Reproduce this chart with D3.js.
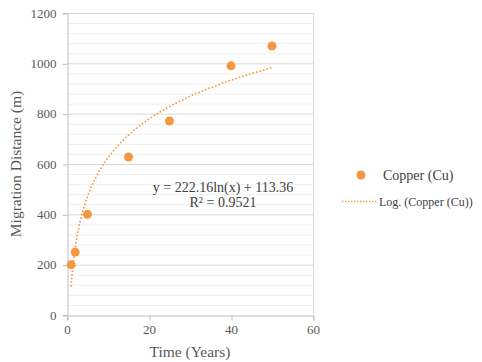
<!DOCTYPE html>
<html>
<head>
<meta charset="utf-8">
<script src="https://cdn.jsdelivr.net/npm/d3@7"></script>
<style>
  body { margin: 0; background: #fff; }
  svg, svg text { font-family: "Liberation Serif", "Times New Roman", serif; }
  svg { display: block; }
</style>
</head>
<body>
<div id="chart"></div>
<script>
// data
const years = [1, 2, 5, 15, 25, 40, 50];
const distance = [200, 250, 400, 628, 771, 990, 1069];
const xTicks = [0, 20, 40, 60];
const yTicks = [0, 200, 400, 600, 800, 1000, 1200];
// log trendline as printed on the chart
const fitA = 222.16, fitB = 113.36;
const seriesName = 'Copper (Cu)';
const trendName = 'Log. (Copper (Cu))';

const width = 482, height = 362,
    margin = { top: 13, right: 169, bottom: 47, left: 67 },
    innerW = width - margin.left - margin.right,
    innerH = height - margin.top - margin.bottom,
    orange = '#F59640',
    grey = '#595959';

const svg = d3.select('#chart').append('svg')
    .attr('width', width)
    .attr('height', height);

const g = svg.append('g')
    .attr('transform', 'translate(' + margin.left + ',' + margin.top + ')');

const x = d3.scaleLinear().domain([0, 60]).range([0, innerW]);
const y = d3.scaleLinear().domain([0, 1200]).range([innerH, 0]);

// minor gridlines every 40
g.append('g').selectAll('line')
    .data(d3.range(40, 1200, 40).filter(v => v % 200 !== 0))
    .enter().append('line')
    .attr('x1', 0).attr('x2', innerW)
    .attr('y1', d => y(d) + 0.5).attr('y2', d => y(d) + 0.5)
    .attr('stroke', '#efefef');

// major gridlines
g.append('g').selectAll('line')
    .data(yTicks.slice(1))
    .enter().append('line')
    .attr('x1', 0).attr('x2', innerW)
    .attr('y1', d => y(d) + 0.5).attr('y2', d => y(d) + 0.5)
    .attr('stroke', '#d9d9d9');

// right border
g.append('line')
    .attr('x1', innerW + 0.5).attr('x2', innerW + 0.5)
    .attr('y1', 0).attr('y2', innerH)
    .attr('stroke', '#d9d9d9');

const yAxis = g.append('g')
    .attr('transform', 'translate(0.5,0)')
    .call(d3.axisLeft(y).tickValues(yTicks).tickFormat(d3.format('d')).tickSize(5).tickPadding(6));
const xAxis = g.append('g')
    .attr('transform', 'translate(0,' + (innerH + 0.5) + ')')
    .call(d3.axisBottom(x).tickValues(xTicks).tickFormat(d3.format('d')).tickSize(5).tickPadding(4));

[xAxis, yAxis].forEach(a => {
    a.attr('font-family', null).attr('font-size', null);
    a.select('.domain').attr('stroke', '#bfbfbf');
    a.selectAll('.tick line').attr('stroke', '#bfbfbf');
    a.selectAll('.tick text')
        .attr('fill', grey)
        .style('font-size', '13px');
});
yAxis.selectAll('.tick line').attr('transform', 'translate(0,0.5)');
xAxis.selectAll('.tick line').attr('transform', 'translate(0.5,0)');

// trendline
const trend = d3.range(1, 50.01, 0.25).map(t => [t, fitA * Math.log(t) + fitB]);
g.append('path')
    .datum(trend)
    .attr('d', d3.line().x(d => x(d[0])).y(d => y(d[1])))
    .attr('fill', 'none')
    .attr('stroke', orange)
    .attr('stroke-width', 1.6)
    .attr('stroke-dasharray', '1.6,2');

// points
g.append('g').selectAll('circle')
    .data(years.map((t, i) => [t, distance[i]]))
    .enter().append('circle')
    .attr('cx', d => x(d[0]))
    .attr('cy', d => y(d[1]))
    .attr('r', 4.5)
    .attr('fill', orange);

// equation label
const eq = g.append('text')
    .attr('text-anchor', 'middle')
    .attr('fill', '#404040')
    .style('font-size', '14px');
eq.append('tspan').attr('x', 156).attr('y', 179).text('y = 222.16ln(x) + 113.36');
eq.append('tspan').attr('x', 156).attr('y', 193.5).text('R² = 0.9521');

// axis titles
svg.append('text')
    .attr('x', margin.left + innerW / 2)
    .attr('y', 357)
    .attr('text-anchor', 'middle')
    .attr('fill', grey)
    .style('font-size', '15.5px')
    .text('Time (Years)');

svg.append('text')
    .attr('transform', 'translate(20.5,164) rotate(-90)')
    .attr('text-anchor', 'middle')
    .attr('fill', grey)
    .style('font-size', '15.5px')
    .text('Migration Distance (m)');

// legend
const legend = svg.append('g');
legend.append('circle')
    .attr('cx', 361).attr('cy', 175).attr('r', 4.5)
    .attr('fill', orange);
legend.append('text')
    .attr('x', 383).attr('y', 180)
    .attr('fill', '#404040')
    .style('font-size', '14px')
    .text(seriesName);
legend.append('line')
    .attr('x1', 342).attr('x2', 378)
    .attr('y1', 201.5).attr('y2', 201.5)
    .attr('stroke', orange)
    .attr('stroke-width', 1.4)
    .attr('stroke-dasharray', '1.4,1.6');
legend.append('text')
    .attr('x', 379).attr('y', 205.5)
    .attr('fill', '#404040')
    .style('font-size', '12px')
    .text(trendName);
</script>
</body>
</html>
